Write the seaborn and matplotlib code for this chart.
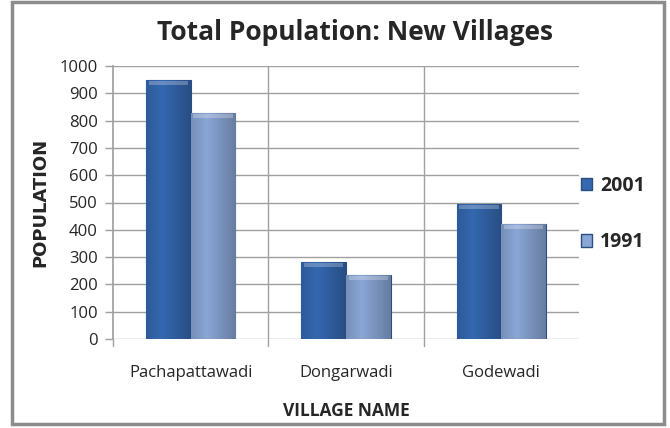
import matplotlib
matplotlib.use("Agg")
import matplotlib.pyplot as plt
import seaborn as sns
import pandas as pd
import numpy as np
from matplotlib.patches import Rectangle
from matplotlib import font_manager

villages = ["Pachapattawadi", "Dongarwadi", "Godewadi"]
pop_2001 = [950, 283, 494]
pop_1991 = [829, 234, 420]
years = ["2001", "1991"]
yticks = [0, 100, 200, 300, 400, 500, 600, 700, 800, 900, 1000]

colors = {"2001": "#3568B0", "1991": "#8AA6D6"}

sns.set_theme(style="white")
names = {f.name for f in font_manager.fontManager.ttflist}
fam = "Liberation Sans Narrow" if "Liberation Sans Narrow" in names else "Open Sans"
plt.rcParams['font.family'] = [fam, 'DejaVu Sans']

df = pd.DataFrame({
    "village": villages * 2,
    "year": [years[0]] * 3 + [years[1]] * 3,
    "population": pop_2001 + pop_1991,
})

fig = plt.figure(figsize=(6.7, 4.28), dpi=100)
ax = fig.add_axes([113 / 670, 1 - 339 / 428, (579 - 113) / 670, (339 - 66) / 428])

sns.barplot(data=df, x="village", y="population", hue="year", hue_order=years,
            palette=colors, width=0.575, dodge=True, ax=ax, legend=False,
            edgecolor="#2A4E80", linewidth=0.8, saturation=1)

# gradient shading on bars
for p, yr in zip(ax.patches, [years[0]] * 3 + [years[1]] * 3):
    x0, y0 = p.get_x(), p.get_y()
    w, h = p.get_width(), p.get_height()
    base = np.array(matplotlib.colors.to_rgb(colors[yr]))
    t = np.linspace(0, 1, 50)
    shade = 1 - 0.25 * np.abs(t - 0.35) / 0.65
    grad = np.clip(base[None, :] * shade[:, None], 0, 1)[None, :, :]
    im = ax.imshow(grad, extent=[x0, x0 + w, y0, y0 + h], aspect="auto", zorder=p.get_zorder() + 0.1)
    im.set_clip_path(p)
    top = min(h, 18)
    bev = Rectangle((x0 + w * 0.06, y0 + h - top), w * 0.88, top * 0.8,
                    facecolor=(1, 1, 1, 0.25), edgecolor="none", zorder=p.get_zorder() + 0.2)
    ax.add_patch(bev)

ax.set_ylim(0, 1000)
ax.set_xlim(-0.5, 2.5)
ax.set_yticks(yticks)
ax.set_yticklabels([str(v) for v in yticks], fontsize=12)
ax.set_xticks([0, 1, 2])
ax.set_xticklabels(villages, fontsize=12)

grid_c = "#A0A0A0"
for v in yticks:
    ax.axhline(v, color=grid_c, lw=1, zorder=0)
for xv in [0.5, 1.5]:
    ax.axvline(xv, color=grid_c, lw=1, zorder=0)
for s in ["top", "right", "bottom"]:
    ax.spines[s].set_visible(False)
ax.spines["left"].set_color(grid_c)
ax.tick_params(axis="y", length=6, color=grid_c, width=1, left=True, pad=5)
ax.tick_params(axis="x", length=0, pad=19)
for xv in [-0.5, 0.5, 1.5]:
    ax.plot([xv, xv], [0, -0.025], transform=ax.get_xaxis_transform(), color=grid_c,
            lw=1, clip_on=False)

ax.set_xlabel("VILLAGE NAME", fontsize=12.5, fontweight="bold", labelpad=15)
ax.set_ylabel("POPULATION", fontsize=13, fontweight="bold", family="DejaVu Sans", labelpad=7)

fig.text(0.53, 1 - 33 / 428, "Total Population: New Villages", ha="center", va="center",
         fontsize=19, fontweight="bold")

handles = [Rectangle((0, 0), 1, 1, facecolor=colors[y], edgecolor="#2A4E80") for y in years]
leg = fig.legend(handles, years, loc="center left", bbox_to_anchor=(563 / 670, 1 - 214 / 428),
                 frameon=False, prop={"weight": "bold", "size": 14},
                 handlelength=0.6, handleheight=0.6, handletextpad=0.4, labelspacing=1.9)

fig.patches.append(Rectangle((12 / 670, 4 / 428), (664 - 12) / 670, (424 - 2) / 428,
                             transform=fig.transFigure, fill=False, edgecolor="#8C8C8C", lw=2.5))

fig.savefig("out.png", dpi=100)
